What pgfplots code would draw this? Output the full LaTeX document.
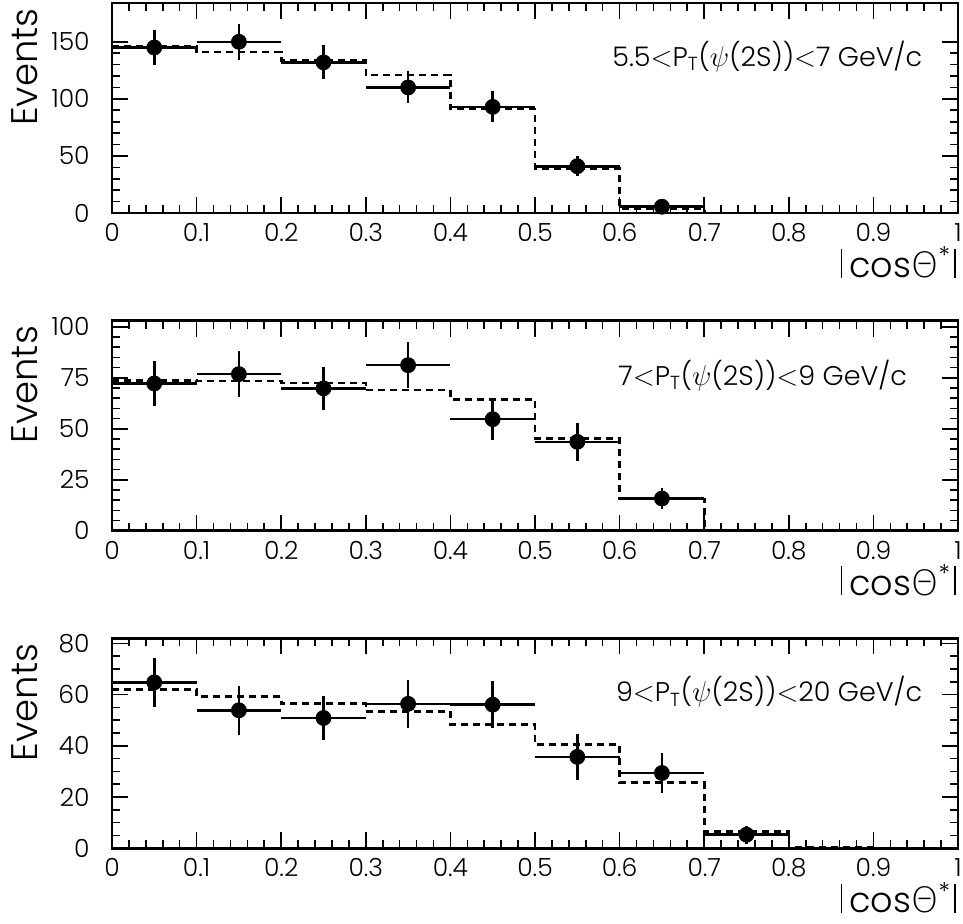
\documentclass[border=0pt]{standalone}
\usepackage{pgfplots}
\pgfplotsset{compat=1.18}
\usepackage{fontspec}
\setmainfont{Poppins Light}
\newfontfamily\greekfont{DejaVu Sans ExtraLight}

\newcommand{\lt}{{$<$}}
\newcommand{\vbar}{\rule{0.8pt}{14.5pt}}
\tikzset{annot/.style={anchor=east, inner sep=0pt, font=\fontsize{13.5}{13.5}\selectfont}}
\pgfplotsset{
  rootstyle/.style={
    scale only axis, width=423pt, height=105pt,
    xmin=0, xmax=1,
    xtick={0,0.1,0.2,0.3,0.4,0.5,0.6,0.7,0.8,0.9,1},
    xticklabels={0,0.1,0.2,0.3,0.4,0.5,0.6,0.7,0.8,0.9,1},
    minor x tick num=4,
    tick align=inside,
    major tick length=8pt, minor tick length=4pt,
    axis line style={line width=1.4pt},
    every tick/.style={black, line width=0.8pt},
    xticklabel style={font=\fontsize{12.5}{12.5}\selectfont, anchor=north, inner sep=0pt, yshift=-5pt},
    yticklabel style={font=\fontsize{12.5}{12.5}\selectfont, anchor=east, inner sep=0pt, xshift=-11pt},
    clip=false,
    anchor=north west,
  },
  datapts/.style={only marks, mark=*, mark size=3.75pt, black,
    error bars/.cd, x dir=both, x explicit, y dir=both, y explicit,
    error mark=none, error bar style={line width=1.3pt, black}},
  mchist/.style={const plot, black, line width=1.3pt, dash pattern=on 3.5pt off 2.5pt},
}

\begin{document}
\begin{tikzpicture}
\useasboundingbox (0,0) rectangle (481.5pt,-461.5pt);

% ---------- panel 1 ----------
\begin{axis}[rootstyle, name=ax1, at={(56pt,-1.5pt)},
  ymin=0, ymax=184, ytick={0,50,100,150}, yticklabels={0,50,100,150}, minor y tick num=4]
\addplot[mchist] coordinates {(0,146)(0.1,141)(0.2,133.6)(0.3,121)(0.4,91)(0.5,39.2)(0.6,4.1)(0.7,0)};
\addplot[datapts] table[x=x,y=y,x error=ex,y error=ey] {
x y ex ey
0.05 145 0.05 15.5
0.15 150 0.05 16
0.25 132 0.05 15
0.35 110 0.05 14
0.45 93 0.05 13.5
0.55 41 0.05 9
0.65 5.5 0.05 3
};
\node[annot] at (axis cs:0.958,137) {5.5\lt P\textsubscript{T}($\psi$(2S))\lt 7 GeV/c};
\end{axis}

% ---------- panel 2 ----------
\begin{axis}[rootstyle, name=ax2, at={(56pt,-160.35pt)},
  ymin=0, ymax=103, ytick={0,25,50,75,100}, yticklabels={0,25,50,75,100}, minor y tick num=4]
\addplot[mchist] coordinates {(0,73.7)(0.1,73.4)(0.2,72.5)(0.3,69)(0.4,64.4)(0.5,45.3)(0.6,15.5)(0.7,0.3)(0.8,0.3)};
\addplot[datapts] table[x=x,y=y,x error=ex,y error=ey] {
x y ex ey
0.05 72.2 0.05 10.9
0.15 76.8 0.05 11.1
0.25 69.8 0.05 10.5
0.35 81.2 0.05 11.4
0.45 54.7 0.05 10
0.55 43.6 0.05 9.2
0.65 15.8 0.05 5.3
};
\node[annot] at (axis cs:0.94,76) {7\lt P\textsubscript{T}($\psi$(2S))\lt 9 GeV/c};
\end{axis}

% ---------- panel 3 ----------
\begin{axis}[rootstyle, name=ax3, at={(56pt,-319.15pt)},
  ymin=0, ymax=82, ytick={0,20,40,60,80}, yticklabels={0,20,40,60,80}, minor y tick num=3]
\addplot[mchist] coordinates {(0,61.9)(0.1,59.2)(0.2,56.5)(0.3,53.5)(0.4,48.3)(0.5,40.5)(0.6,25.6)(0.7,6.6)(0.8,0.4)(0.9,0.4)};
\addplot[datapts] table[x=x,y=y,x error=ex,y error=ey] {
x y ex ey
0.05 64.8 0.05 9.5
0.15 53.9 0.05 9.5
0.25 50.9 0.05 8.7
0.35 56.4 0.05 9.3
0.45 56.1 0.05 9.3
0.55 35.7 0.05 9
0.65 29.4 0.05 7.9
0.75 5.3 0.05 3.6
};
\node[annot] at (axis cs:0.958,61) {9\lt P\textsubscript{T}($\psi$(2S))\lt 20 GeV/c};
\end{axis}

% ---------- axis titles ----------
\foreach \ax in {ax1, ax2, ax3}{
  \node[rotate=90, anchor=east, inner sep=0pt, font=\fontsize{18.5}{18.5}\selectfont]
    at ([yshift=-2.5pt]\ax.north west -| 12.5pt,0) {Events};
  \node[anchor=base east, inner sep=0pt, font=\fontsize{17.5}{17.5}\selectfont]
    at ([xshift=-1pt, yshift=-32.25pt]\ax.south east) {\vbar\hspace{3.5pt}cos{\greekfont Θ}\textsuperscript{*}\hspace{1.5pt}\vbar};
}
\end{tikzpicture}
\end{document}
